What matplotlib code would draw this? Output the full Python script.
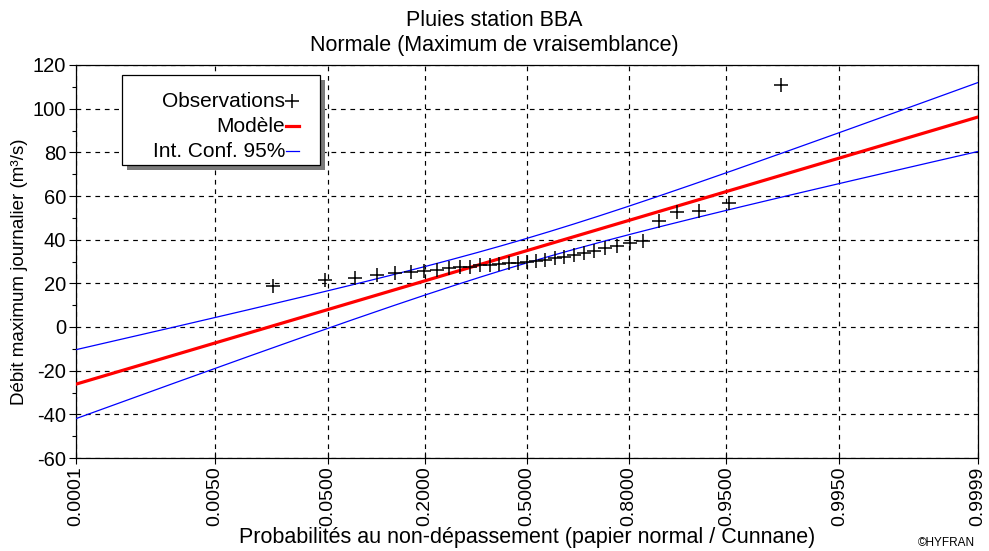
import numpy as np
import matplotlib
matplotlib.use("Agg")
import matplotlib.pyplot as plt
from matplotlib.patches import Rectangle
from matplotlib.lines import Line2D
from matplotlib.ticker import MultipleLocator
from statistics import NormalDist

plt.rcParams["font.family"] = ["Liberation Sans", "DejaVu Sans"]
plt.rcParams["axes.unicode_minus"] = False

OBS = [19.0, 21.3, 22.5, 24.0, 24.7, 25.3, 25.5, 26.1, 27.0, 27.3, 27.6,
       28.2, 28.5, 28.8, 29.2, 29.5, 30.0, 30.2, 30.7, 31.6, 32.1, 33.0,
       33.9, 34.8, 36.2, 37.1, 38.5, 39.4, 48.7, 52.5, 53.0, 56.8, 111.0]

# fitted normal model (maximum likelihood)
MU = 35.0
SIGMA = 16.45

PROB_TICKS = [0.0001, 0.005, 0.05, 0.2, 0.5, 0.8, 0.95, 0.995, 0.9999]
PROB_LABELS = ["0.0001", "0.0050", "0.0500", "0.2000", "0.5000",
               "0.8000", "0.9500", "0.9950", "0.9999"]

nd = NormalDist()
n = len(OBS)
# Cunnane plotting positions on normal paper
z_obs = [nd.inv_cdf((i - 0.4) / (n + 0.2)) for i in range(1, n + 1)]

z_lo, z_hi = nd.inv_cdf(PROB_TICKS[0]), nd.inv_cdf(PROB_TICKS[-1])
zz = np.linspace(z_lo, z_hi, 300)
model = MU + SIGMA * zz
half = 1.96 * SIGMA * np.sqrt((1 + zz ** 2 / 2) / n)

W, H = 989, 551
fig = plt.figure(figsize=(W / 100, H / 100), dpi=100)
ax = fig.add_axes([76 / W, 1 - 458 / H, 902 / W, 393 / H])

ax.plot(zz, model + half, color="#0000ff", lw=0.9, zorder=3)
ax.plot(zz, model - half, color="#0000ff", lw=0.9, zorder=3)
ax.plot(zz, model, color="#ff0000", lw=2.3, zorder=3)
ax.plot(z_obs, OBS, "+", color="k", ms=10, mew=1.1, zorder=4, clip_on=False)

ax.set_xlim(z_lo, z_hi)
ax.set_ylim(-60, 120)
ax.set_xticks([nd.inv_cdf(p) for p in PROB_TICKS])
ax.set_xticklabels(PROB_LABELS, rotation=90, fontsize=14)
ax.yaxis.set_major_locator(MultipleLocator(20))
ax.yaxis.set_minor_locator(MultipleLocator(10))
ax.tick_params(axis="x", direction="inout", length=8, width=0.8, pad=2)
ax.tick_params(axis="y", which="major", direction="out", length=5, width=0.8, labelsize=14.5, pad=2)
ax.tick_params(axis="y", which="minor", direction="out", length=3, width=0.8)
ax.grid(True, which="major", color="k", ls=(0, (4, 4)), lw=0.85, zorder=1)
for s in ax.spines.values():
    s.set_linewidth(0.9)

# titles and labels
fig.text(0.5, 1 - 20 / H, "Pluies station BBA", ha="center", va="center", fontsize=15.5)
fig.text(0.5, 1 - 46 / H, "Normale (Maximum de vraisemblance)", ha="center", va="center", fontsize=15.5)
fig.text((76 + 451) / W, 1 - 537 / H, "Probabilités au non-dépassement (papier normal / Cunnane)",
         ha="center", va="center", fontsize=15.5)
fig.text(20 / W, 1 - 272 / H, "Débit maximum journalier (m³/s)", rotation=90,
         ha="center", va="center", fontsize=13.5)
fig.text(975 / W, 2 / H, "©HYFRAN", ha="right", va="bottom", fontsize=8.5)

# legend box with shadow
lx, ly, lw_, lh = 0.051, 0.7455, 0.2195, 0.229
ax.add_patch(Rectangle((lx + 0.0055, ly - 0.0127), lw_, lh, transform=ax.transAxes,
                       facecolor="#7a7a7a", edgecolor="none", zorder=5, clip_on=False))
ax.add_patch(Rectangle((lx, ly), lw_, lh, transform=ax.transAxes,
                       facecolor="white", edgecolor="k", lw=0.9, zorder=6, clip_on=False))
rows = [("Observations", dict(marker="+", color="k", ms=10, mew=1.1, ls="none")),
        ("Modèle", dict(color="#ff0000", lw=2.3)),
        ("Int. Conf. 95%", dict(color="#0000ff", lw=0.9))]
for k, (lab, style) in enumerate(rows):
    yy = 0.908 - k * 0.0635
    ax.text(0.2317, yy, lab, transform=ax.transAxes, ha="right", va="center",
            fontsize=15, zorder=7)
    if style.get("marker"):
        ax.add_line(Line2D([0.240], [yy], transform=ax.transAxes, zorder=7, **style))
    else:
        ax.add_line(Line2D([0.2328, 0.2472], [yy, yy], transform=ax.transAxes, zorder=7, **style))

fig.savefig("out.png", dpi=100)
